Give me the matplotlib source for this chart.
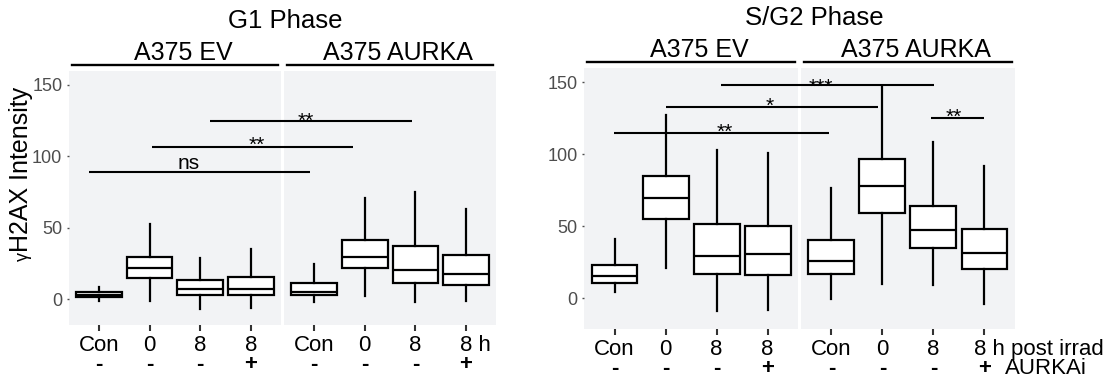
"""
gamma-H2AX intensity boxplots, G1 vs S/G2 phase, A375 EV / AURKA cells.
Output: out.png
"""
import matplotlib.pyplot as plt
from matplotlib.lines import Line2D
from matplotlib.transforms import blended_transform_factory

plt.rcParams['font.family'] = ['Liberation Sans', 'DejaVu Sans']

W, H = 1114, 385   # output size in px (dpi 100)

CELL_LINES = ["A375 EV", "A375 AURKA"]
CONDITIONS = ["Con", "0", "8", "8", "Con", "0", "8", "8"]
AURKAI     = ["-", "-", "-", "+", "-", "-", "-", "+"]

# box stats, order: EV Con, 0, 8, 8+i, AURKA Con, 0, 8, 8+i
G1_LO  = [-1.6, -1.6, -7.3, -6.1, -1.8, 1.8, -2.0, -1.6]
G1_Q1  = [1.4, 14.5, 2.7, 2.7, 2.5, 21.4, 10.9, 9.5]
G1_MED = [3.0, 21.6, 6.8, 6.8, 5.0, 29.3, 20.5, 17.5]
G1_Q3  = [4.8, 29.8, 13.6, 15.7, 11.4, 41.4, 37.5, 31.1]
G1_HI  = [8.6, 52.3, 29.1, 35.0, 24.5, 71.1, 75.2, 63.2]

SG2_LO  = [4.6, 21.3, -8.5, -8.0, -0.2, 9.9, 8.9, -3.7]
SG2_Q1  = [10.8, 54.8, 17.2, 16.3, 16.7, 58.9, 34.6, 20.4]
SG2_MED = [15.6, 69.3, 29.4, 30.5, 26.1, 78.2, 47.2, 31.7]
SG2_Q3  = [23.4, 84.7, 51.4, 50.5, 40.6, 96.8, 64.2, 48.4]
SG2_HI  = [41.3, 127.5, 102.8, 100.9, 76.2, 147.2, 108.6, 91.7]

# significance bars: x start, x end, bar y, text x, text baseline y, label
G1_SIG_X0  = [0.81, 2.04, 3.19]
G1_SIG_X1  = [5.17, 6.01, 7.18]
G1_SIG_Y   = [89.3, 106.4, 125.0]
G1_SIG_TX  = [2.78, 4.11, 5.08]
G1_SIG_TY  = [91.4, 103.6, 121.0]
G1_SIG_LBL = ["ns", "**", "**"]

SG2_SIG_X0  = [0.99, 2.00, 3.09, 7.20]
SG2_SIG_X1  = [5.20, 6.17, 7.27, 8.25]
SG2_SIG_Y   = [114.8, 132.9, 147.9, 125.2]
SG2_SIG_TX  = [3.16, 4.04, 5.05, 7.64]
SG2_SIG_TY  = [111.1, 129.7, 142.4, 121.6]
SG2_SIG_LBL = ["**", "*", "***", "**"]

PANEL_BG = "#f2f3f5"
GAP = 0.05
POS = [i + 1 for i in range(4)] + [i + 1 + 4.2 + GAP for i in range(4)]

TICK_FS, SIG_FS, STRIP_FS, TITLE_FS = 16, 15, 18, 18.5


def px(v):
    return v * 0.72   # px -> points at dpi 100


def draw_panel(ax, lo, q1, med, q3, hi, sx0, sx1, sy, stx, sty, slbl,
               ylim, title, title_x, last_top, last_extra, last_dx):
    ax.set_facecolor(PANEL_BG)
    stats = [dict(whislo=a, q1=b, med=c, q3=d, whishi=e, fliers=[], label="")
             for a, b, c, d, e in zip(lo, q1, med, q3, hi)]
    lw = 1.6
    ax.bxp(stats, positions=POS, widths=0.9, showfliers=False, showcaps=False,
           patch_artist=True,
           boxprops=dict(facecolor="white", edgecolor="black", linewidth=lw),
           whiskerprops=dict(color="black", linewidth=lw),
           medianprops=dict(color="black", linewidth=lw))
    ax.axvspan(4.6, 4.6 + GAP, color="white", lw=0, zorder=0.5)

    for x0, x1, y, tx, ty, lbl in zip(sx0, sx1, sy, stx, sty, slbl):
        ax.plot([x0, x1], [y, y], color="black", lw=1.5, solid_capstyle="butt")
        ax.text(tx, ty, lbl, ha="center", va="baseline", fontsize=SIG_FS)

    ax.set_xlim(0.4, 8.8 + GAP)
    ax.set_ylim(*ylim)
    ax.set_yticks([0, 50, 100, 150])
    ax.tick_params(axis="y", length=1.5, width=1.0, color="#4d4d4d",
                   labelsize=13, labelcolor="#4d4d4d", pad=3)
    ax.set_xticks(POS)
    ax.set_xticklabels([])
    ax.tick_params(axis="x", length=4.5, width=1.5, color="#333333")
    for s in ax.spines.values():
        s.set_visible(False)

    h_px = ax.get_position().height * H
    tr = blended_transform_factory(ax.transData, ax.transAxes)

    # x labels: time row and AURKAi row
    row1, row2 = -px(26), -px(45)
    for i, (p, c, a) in enumerate(zip(POS, CONDITIONS, AURKAI)):
        last = i == len(POS) - 1
        ax.annotate(last_top if last else c, xy=(p, 0), xycoords=tr,
                    xytext=(last_dx if last else 0, row1),
                    textcoords="offset points", ha="left" if last else "center",
                    va="baseline", fontsize=TICK_FS, annotation_clip=False)
        ax.annotate(a, xy=(p, 0), xycoords=tr, xytext=(0, row2),
                    textcoords="offset points", ha="center", va="baseline",
                    fontsize=TICK_FS, fontweight="bold", annotation_clip=False)
        if last and last_extra:
            ax.annotate(last_extra, xy=(p, 0), xycoords=tr, xytext=(px(20), row2),
                        textcoords="offset points", ha="left", va="baseline",
                        fontsize=TICK_FS, annotation_clip=False)

    # facet strips: label plus underline
    y_line = 1 + 6 / h_px
    for (f0, f1), name in zip([(0.4, 4.6), (4.6 + GAP, 8.8 + GAP)], CELL_LINES):
        ax.add_line(Line2D([f0 + 0.06, f1 - 0.06], [y_line, y_line], transform=tr,
                           color="black", lw=1.7, clip_on=False))
        ax.annotate(name, xy=((f0 + f1) / 2, 1), xycoords=tr,
                    xytext=(px(8), px(18)), textcoords="offset points",
                    ha="center", va="center", fontsize=STRIP_FS,
                    annotation_clip=False)

    ax.text(title_x, 1 + 50 / h_px, title, transform=ax.transAxes,
            ha="center", va="center", fontsize=TITLE_FS)


fig = plt.figure(figsize=(W / 100, H / 100), dpi=100)
ax_g1 = fig.add_axes([68.6 / W, 1 - 325 / H, 427.8 / W, 254 / H])
ax_sg = fig.add_axes([583.9 / W, 1 - 329 / H, 431.2 / W, 261 / H])

draw_panel(ax_g1, G1_LO, G1_Q1, G1_MED, G1_Q3, G1_HI,
           G1_SIG_X0, G1_SIG_X1, G1_SIG_Y, G1_SIG_TX, G1_SIG_TY, G1_SIG_LBL,
           (-18.2, 159.8), "G1 Phase", 0.5075, "8 h", "", -px(6.5))
draw_panel(ax_sg, SG2_LO, SG2_Q1, SG2_MED, SG2_Q3, SG2_HI,
           SG2_SIG_X0, SG2_SIG_X1, SG2_SIG_Y, SG2_SIG_TX, SG2_SIG_TY, SG2_SIG_LBL,
           (-21.3, 159.8), "S/G2 Phase", 0.535, "8 h post irrad", "AURKAi",
           -px(10))

# y axis title with small gamma
fig.text(28 / W, 1 - 252 / H, "H2AX Intensity", rotation=90, rotation_mode="anchor",
         ha="left", va="baseline", fontsize=18)
fig.text(28 / W, 1 - 252 / H, "\u03b3", rotation=90, rotation_mode="anchor",
         ha="right", va="baseline", fontsize=13)

fig.savefig("out.png", dpi=100)
